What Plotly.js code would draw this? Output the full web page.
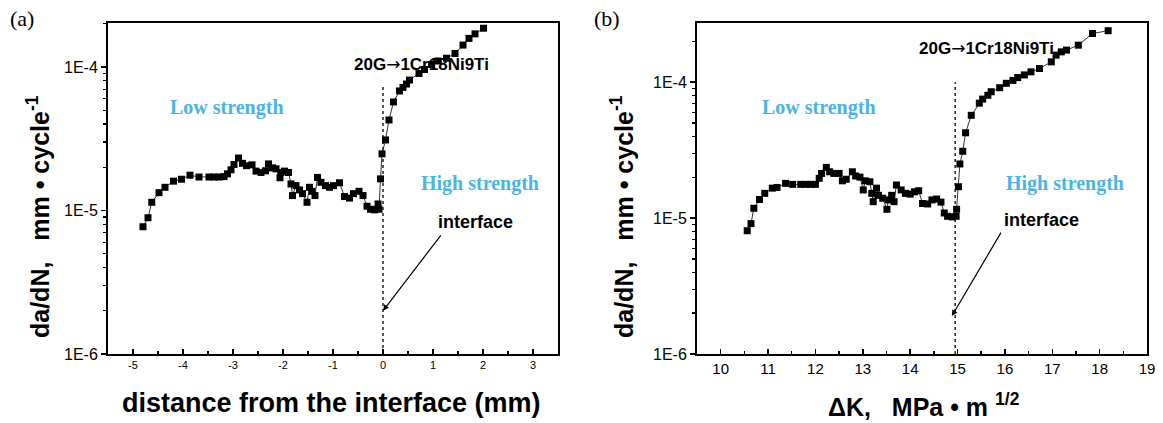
<!DOCTYPE html>
<html>
<head>
<meta charset="utf-8">
<script src="https://cdn.plot.ly/plotly-3.0.1.min.js"></script>
<style>html,body{margin:0;padding:0;background:#fff;}#chart{width:1163px;height:423px;}</style>
</head>
<body>
<div id="chart"></div>
<script>
// ---- data ----
const distA = [-4.80, -4.70, -4.625, -4.48, -4.36, -4.19, -4.03, -3.86, -3.68, -3.48, -3.38, -3.28, -3.18, -3.11, -3.04, -2.98, -2.89, -2.81, -2.73, -2.62, -2.54, -2.44, -2.35, -2.29, -2.21, -2.14, -2.06, -2.04, -1.97, -1.89, -1.84, -1.81, -1.74, -1.67, -1.61, -1.52, -1.47, -1.42, -1.36, -1.31, -1.24, -1.15, -1.07, -0.99, -0.87, -0.77, -0.67, -0.59, -0.48, -0.40, -0.32, -0.25, -0.17, -0.10, -0.08, -0.05, -0.02, 0.05, 0.12, 0.21, 0.33, 0.40, 0.47, 0.53, 0.72, 0.83, 0.97, 1.10, 1.27, 1.44, 1.60, 1.72, 1.84, 2.01];
const rateA = [7.7e-6, 8.9e-6, 1.14e-5, 1.33e-5, 1.45e-5, 1.60e-5, 1.65e-5, 1.76e-5, 1.71e-5, 1.71e-5, 1.71e-5, 1.71e-5, 1.72e-5, 1.80e-5, 1.92e-5, 2.09e-5, 2.32e-5, 2.13e-5, 2.05e-5, 2.08e-5, 1.88e-5, 1.84e-5, 1.89e-5, 2.11e-5, 1.98e-5, 1.95e-5, 1.69e-5, 1.84e-5, 1.88e-5, 1.84e-5, 1.53e-5, 1.27e-5, 1.49e-5, 1.39e-5, 1.31e-5, 1.14e-5, 1.45e-5, 1.36e-5, 1.27e-5, 1.70e-5, 1.57e-5, 1.49e-5, 1.45e-5, 1.49e-5, 1.56e-5, 1.25e-5, 1.22e-5, 1.31e-5, 1.36e-5, 1.27e-5, 1.07e-5, 1.02e-5, 1.01e-5, 1.11e-5, 1.02e-5, 1.66e-5, 2.48e-5, 3.1e-5, 4.27e-5, 5.7e-5, 6.8e-5, 7.2e-5, 7.6e-5, 8.1e-5, 9.0e-5, 9.6e-5, 1.04e-4, 1.10e-4, 1.15e-4, 1.24e-4, 1.42e-4, 1.58e-4, 1.70e-4, 1.86e-4];

const dK = [10.56, 10.64, 10.70, 10.82, 10.93, 11.09, 11.19, 11.37, 11.52, 11.69, 11.79, 11.90, 12.00, 12.08, 12.13, 12.23, 12.30, 12.39, 12.50, 12.57, 12.65, 12.78, 12.85, 12.94, 13.01, 13.05, 13.15, 13.19, 13.22, 13.29, 13.33, 13.42, 13.51, 13.54, 13.61, 13.66, 13.71, 13.81, 13.90, 14.00, 14.09, 14.18, 14.26, 14.37, 14.46, 14.56, 14.65, 14.72, 14.79, 14.89, 14.97, 14.98, 15.02, 15.05, 15.11, 15.17, 15.29, 15.46, 15.53, 15.64, 15.71, 15.89, 16.03, 16.17, 16.27, 16.41, 16.55, 16.73, 16.98, 17.08, 17.19, 17.30, 17.55, 17.85, 18.18];
const rateB = [8.07e-6, 9.1e-6, 1.18e-5, 1.37e-5, 1.52e-5, 1.66e-5, 1.68e-5, 1.80e-5, 1.77e-5, 1.77e-5, 1.77e-5, 1.77e-5, 1.77e-5, 1.96e-5, 2.13e-5, 2.36e-5, 2.19e-5, 2.13e-5, 2.13e-5, 1.88e-5, 1.93e-5, 2.19e-5, 2.04e-5, 2.0e-5, 1.61e-5, 1.88e-5, 1.85e-5, 1.52e-5, 1.32e-5, 1.66e-5, 1.47e-5, 1.40e-5, 1.16e-5, 1.36e-5, 1.47e-5, 1.32e-5, 1.75e-5, 1.61e-5, 1.52e-5, 1.5e-5, 1.56e-5, 1.59e-5, 1.28e-5, 1.27e-5, 1.36e-5, 1.38e-5, 1.31e-5, 1.09e-5, 1.03e-5, 1.02e-5, 1.03e-5, 1.16e-5, 1.7e-5, 2.5e-5, 3.1e-5, 4.24e-5, 5.7e-5, 7.0e-5, 7.5e-5, 8.0e-5, 8.5e-5, 9.1e-5, 9.8e-5, 1.03e-4, 1.08e-4, 1.13e-4, 1.19e-4, 1.26e-4, 1.41e-4, 1.58e-4, 1.67e-4, 1.72e-4, 1.87e-4, 2.28e-4, 2.39e-4];

const interfaceA_x = [0, 0];
const interfaceA_y = [1e-6, 7.5e-5];
const interfaceB_x = [14.95, 14.95];
const interfaceB_y = [1e-6, 1.0e-4];

const xTickValsA = [-5, -4, -3, -2, -1, 0, 1, 2, 3];
const xTickTextA = ['-5', '-4', '-3', '-2', '-1', '0', '1', '2', '3'];
const xTickValsB = [10, 11, 12, 13, 14, 15, 16, 17, 18, 19];
const xTickTextB = ['10', '11', '12', '13', '14', '15', '16', '17', '18', '19'];
const yTickVals = [1e-6, 1e-5, 1e-4];
const yTickText = ['1E-6', '1E-5', '1E-4'];
const yMinorVals = [2e-6, 3e-6, 4e-6, 5e-6, 6e-6, 7e-6, 8e-6, 9e-6, 2e-5, 3e-5, 4e-5, 5e-5, 6e-5, 7e-5, 8e-5, 9e-5, 2e-4, 3e-4];

// ---- styling ----
const SANS = 'Liberation Sans, Arial, sans-serif';
const SERIF = 'Liberation Serif, Times New Roman, serif';
const BLUE = '#4db3e6';
const W = 1163, H = 423;
const px = v => v / W;
const py = v => 1 - v / H;

function series(x, y, xa, ya) {
  return {
    x: x, y: y, xaxis: xa, yaxis: ya, type: 'scatter', mode: 'lines+markers',
    line: {color: '#333', width: 1},
    marker: {symbol: 'square', size: 7, color: '#000'},
    hoverinfo: 'skip', showlegend: false
  };
}
function dotted(x, y, xa, ya) {
  return {
    x: x, y: y, xaxis: xa, yaxis: ya, type: 'scatter', mode: 'lines',
    line: {color: '#000', width: 1.3, dash: 'dot'},
    hoverinfo: 'skip', showlegend: false
  };
}

const traces = [
  dotted(interfaceA_x, interfaceA_y, 'x', 'y'),
  series(distA, rateA, 'x', 'y'),
  dotted(interfaceB_x, interfaceB_y, 'x2', 'y2'),
  series(dK, rateB, 'x2', 'y2')
];

function xAxis(domain, range, fontSize, anchor, vals, text) {
  return {
    domain: domain, range: range, anchor: anchor,
    showline: true, linewidth: 2, linecolor: '#000', mirror: true,
    ticks: 'inside', ticklen: 5, tickwidth: 1.5, tickcolor: '#000',
    tickmode: 'array', tickvals: vals, ticktext: text,
    minor: {ticks: 'inside', ticklen: 3, tickwidth: 1.5, tickcolor: '#000', dtick: 0.5, tick0: 0},
    showgrid: false, zeroline: false,
    tickfont: {family: SANS, size: fontSize, color: '#000'}
  };
}
function yAxis(range, anchor) {
  return {
    type: 'log', domain: [py(354), py(23)], range: range, anchor: anchor,
    showline: true, linewidth: 2, linecolor: '#000', mirror: true,
    tickmode: 'array', tickvals: yTickVals, ticktext: yTickText,
    ticks: 'outside', ticklen: 5, tickwidth: 1.5, tickcolor: '#000',
    minor: {tickmode: 'array', tickvals: yMinorVals, ticks: 'outside', ticklen: 3, tickwidth: 1.2, tickcolor: '#000'},
    showgrid: false, zeroline: false,
    tickfont: {family: SANS, size: 16, color: '#000'}
  };
}

function label(text, x, y, size, family, color, bold, extra) {
  return Object.assign({
    text: text, xref: 'paper', yref: 'paper', x: px(x), y: py(y),
    xanchor: 'center', yanchor: 'middle', showarrow: false,
    font: {family: family, size: size, color: color, weight: bold ? 'bold' : 'normal'}
  }, extra || {});
}
function arrow(xref, yref, x, y, ax, ay) {
  return {
    text: '', xref: xref, yref: yref, x: x, y: Math.log10(y), ax: ax, ay: ay,
    showarrow: true, arrowhead: 2, arrowsize: 1, arrowwidth: 1.2, arrowcolor: '#000'
  };
}

const ytitle = 'da/dN,\u00a0\u00a0\u00a0mm\u00a0\u2022\u00a0cycle<sup>-1</sup>';
const materials = '20G<span style="font-family:DejaVu Sans;font-weight:normal">\u2192</span>1Cr18Ni9Ti';

const annotations = [
  label('(a)', 22, 19, 22, SERIF, '#000', false),
  label('(b)', 607, 19, 22, SERIF, '#000', false),
  label('distance from the interface (mm)', 331, 403, 27, SANS, '#000', true),
  label('\u0394K,\u00a0\u00a0\u00a0MPa\u00a0\u2022\u00a0m\u00a0<sup>1/2</sup>', 924, 405, 25, SANS, '#000', true),
  label(ytitle, 38, 217, 25, SANS, '#000', true, {textangle: -90}),
  label(ytitle, 622, 217, 25, SANS, '#000', true, {textangle: -90}),
  label(materials, 421, 64, 17, SANS, '#000', true),
  label(materials, 986, 48, 17, SANS, '#000', true),
  label('Low strength', 227, 108, 20, SERIF, BLUE, true),
  label('High strength', 480, 184, 20, SERIF, BLUE, true),
  label('interface', 475, 222, 18, SANS, '#000', true),
  label('Low strength', 819, 108, 20, SERIF, BLUE, true),
  label('High strength', 1065, 184, 20, SERIF, BLUE, true),
  label('interface', 1041, 220, 18, SANS, '#000', true),
  arrow('x', 'y', 0, 2e-6, 59, -77),
  arrow('x2', 'y2', 14.88, 1.9e-6, 50, -85)
];

const layout = {
  width: W, height: H,
  margin: {l: 0, r: 0, t: 0, b: 0},
  paper_bgcolor: '#fff', plot_bgcolor: '#fff',
  showlegend: false,
  xaxis: xAxis([px(108), px(558)], [-5.5, 3.5], 11, 'y', xTickValsA, xTickTextA),
  yaxis: yAxis([-6, -3.694], 'x'),
  xaxis2: xAxis([px(697), px(1147)], [9.5, 19], 15, 'y2', xTickValsB, xTickTextB),
  yaxis2: yAxis([-6, -3.565], 'x2'),
  annotations: annotations
};

Plotly.newPlot('chart', traces, layout, {staticPlot: true, displayModeBar: false});
</script>
</body>
</html>
